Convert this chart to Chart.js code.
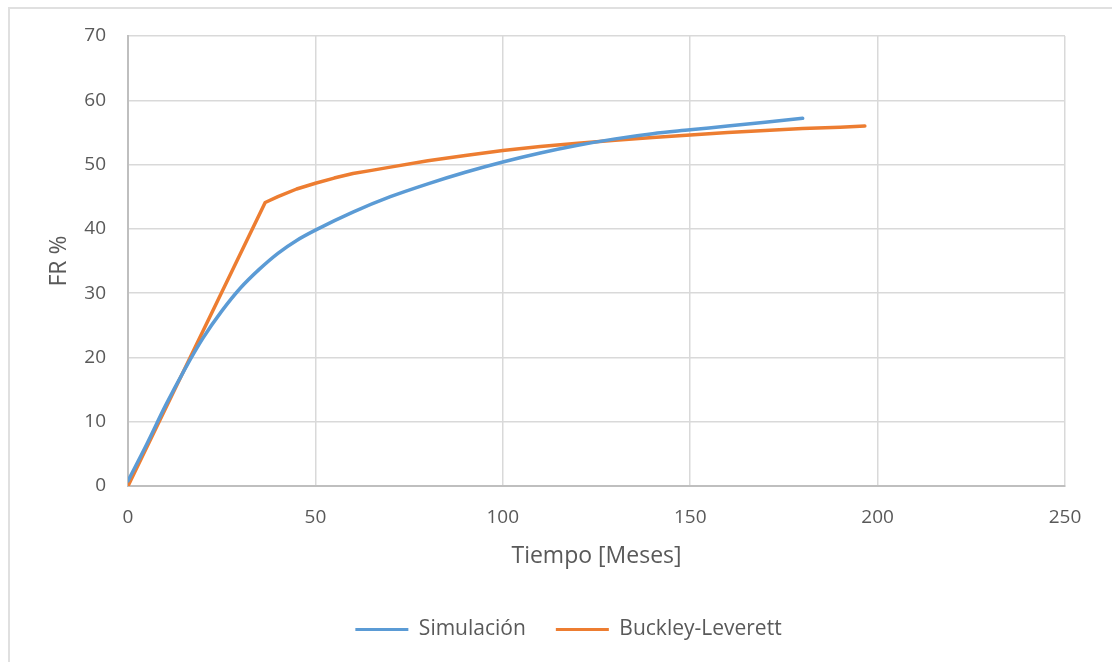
<!DOCTYPE html>
<html>
<head>
<meta charset="utf-8">
<script src="https://cdn.jsdelivr.net/npm/chart.js@4"></script>
<style>
  html, body { margin: 0; padding: 0; background: #fff; }
  #wrap { position: relative; width: 1112px; height: 662px; overflow: hidden; }
  #frame { position: absolute; left: 8px; top: 7px; width: 1120px; height: 670px; border-left: 2px solid #e0e0e0; border-top: 2px solid #e0e0e0; box-sizing: border-box; }
  canvas { position: absolute; left: 0; top: 0; }
</style>
</head>
<body>
<div id="wrap">
  <div id="frame"></div>
  <canvas id="c" width="1112" height="662"></canvas>
</div>
<script>
// Simulación
const simX = [0, 5, 10, 15, 20, 25, 30, 35, 40, 45, 50, 60, 70, 80, 90, 100, 110, 120, 130, 140, 150, 160, 170, 180];
const simY = [0.8, 6.5, 12.5, 18, 23, 27.2, 30.8, 33.7, 36.2, 38.2, 39.8, 42.6, 45, 47, 48.8, 50.4, 51.8, 53, 54, 54.8, 55.4, 56, 56.6, 57.2];
// Buckley-Leverett
const blX = [0, 36.6, 40, 45, 50, 55, 60, 65, 70, 80, 90, 100, 110, 120, 130, 140, 150, 160, 170, 180, 190, 196.6];
const blY = [0, 44.1, 45, 46.2, 47.1, 47.9, 48.6, 49.1, 49.6, 50.6, 51.4, 52.2, 52.8, 53.3, 53.8, 54.2, 54.6, 55, 55.3, 55.6, 55.8, 56.0];

const seriesNames = ['Simulación', 'Buckley-Leverett'];
const xTitle = 'Tiempo [Meses]';
const yTitle = 'FR %';

const toPts = (xs, ys) => xs.map((x, i) => ({ x: x, y: ys[i] }));
const FONT = '"Open Sans", "DejaVu Sans", sans-serif';
const TXT = '#595959';

const shiftLegend = {
  id: 'shiftLegend',
  afterLayout(chart) {
    const l = chart.legend;
    if (l) { l.left += 36; l.right += 36; }
  }
};

new Chart(document.getElementById('c'), {
  type: 'scatter',
  plugins: [shiftLegend],
  data: {
    datasets: [
      { label: seriesNames[0], data: toPts(simX, simY), showLine: true, borderColor: '#5B9BD5', backgroundColor: '#5B9BD5', borderWidth: 3.5, pointRadius: 0, cubicInterpolationMode: 'monotone', borderCapStyle: 'round' },
      { label: seriesNames[1], data: toPts(blX, blY), showLine: true, borderColor: '#ED7D31', backgroundColor: '#ED7D31', borderWidth: 3.5, pointRadius: 0, tension: 0, borderJoinStyle: 'round', borderCapStyle: 'round' }
    ]
  },
  options: {
    responsive: false,
    animation: false,
    layout: { padding: { left: 0, right: 47, top: 36, bottom: 12 } },
    plugins: {
      tooltip: { enabled: false },
      legend: {
        position: 'bottom',
        labels: {
          font: { family: FONT, size: 21 },
          color: TXT,
          boxWidth: 53,
          boxHeight: 3,
          padding: 30,
          generateLabels: (chart) => Chart.defaults.plugins.legend.labels.generateLabels(chart).map(l => Object.assign(l, { lineWidth: 0 }))
        }
      }
    },
    scales: {
      x: {
        type: 'linear',
        min: 0, max: 250,
        afterFit: (s) => { s.height = 103; },
        ticks: { stepSize: 50, font: { family: FONT, size: 19 }, color: TXT, padding: 20, maxRotation: 0 },
        grid: { color: '#d9d9d9', lineWidth: 1.5, drawTicks: false },
        border: { color: '#bfbfbf', width: 2 },
        title: { display: true, text: xTitle, font: { family: FONT, size: 23 }, color: TXT, padding: { top: 0, bottom: 19 } }
      },
      y: {
        type: 'linear',
        min: 0, max: 70,
        afterFit: (s) => { s.width = 128; },
        ticks: { stepSize: 10, font: { family: FONT, size: 19 }, color: TXT, padding: 22 },
        grid: { color: '#d9d9d9', lineWidth: 1.5, drawTicks: false },
        border: { color: '#bfbfbf', width: 2 },
        title: { display: true, text: yTitle, font: { family: FONT, size: 23 }, color: TXT, padding: { top: 46, bottom: 0 } }
      }
    }
  }
});
</script>
</body>
</html>
